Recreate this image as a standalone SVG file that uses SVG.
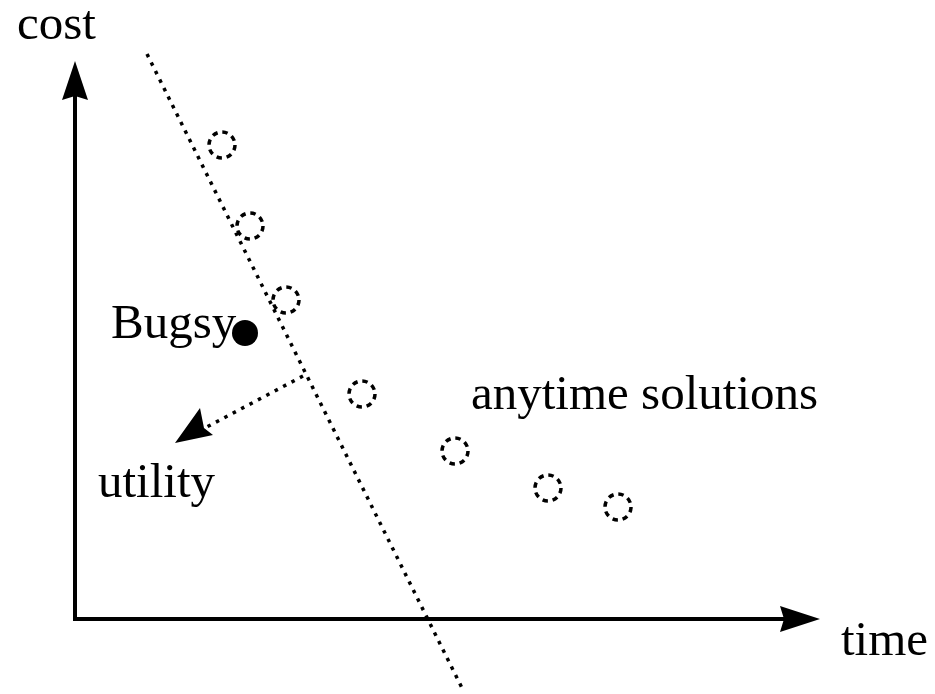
<svg xmlns="http://www.w3.org/2000/svg" width="935" height="694" viewBox="0 0 935 694">
<style>
.lbl{font-family:"Liberation Serif","Times New Roman",serif;font-size:49px;fill:#000}
.axis{stroke:#000;stroke-width:4;fill:none}
.dot{stroke:#000;stroke-width:3.5;fill:none;stroke-dasharray:3.5 6}
.sol{stroke:#000;stroke-width:3.5;fill:none;stroke-dasharray:5.4 4.8}
.head{fill:#000;stroke:none}
</style>
<rect width="935" height="694" fill="#fff"/>
<g id="connectors">
<path class="axis" d="M75,619 V95"/>
<polygon class="head" points="75,61 88,100 75,96 62,100"/>
<path class="axis" d="M73,619 H785"/>
<polygon class="head" points="820,619 780,632 784,619 780,606"/>
<path class="dot" d="M147,54 L463,690"/>
<path class="dot" d="M303,376 L203,429"/>
<polygon class="head" points="175,443 200,408 204,428 213,435"/>
</g>
<g id="cost"><text class="lbl" x="17" y="39">cost</text></g>
<g id="time"><text class="lbl" x="841" y="655">time</text></g>
<g id="bugsy"><circle cx="245" cy="333" r="13" fill="#000"/><text class="lbl" x="111" y="338">Bugsy</text></g>
<g id="utility"><text class="lbl" x="98" y="497">utility</text></g>
<g id="anytime"><text class="lbl" x="471" y="409">anytime solutions</text></g>
<g id="s1"><circle class="sol" cx="222" cy="145" r="13"/></g>
<g id="s2"><circle class="sol" cx="250" cy="226" r="13"/></g>
<g id="s3"><circle class="sol" cx="286" cy="300" r="13"/></g>
<g id="s4"><circle class="sol" cx="362" cy="394" r="13"/></g>
<g id="s5"><circle class="sol" cx="455" cy="451" r="13"/></g>
<g id="s6"><circle class="sol" cx="548" cy="488" r="13"/></g>
<g id="s7"><circle class="sol" cx="618" cy="507" r="13"/></g>
</svg>
